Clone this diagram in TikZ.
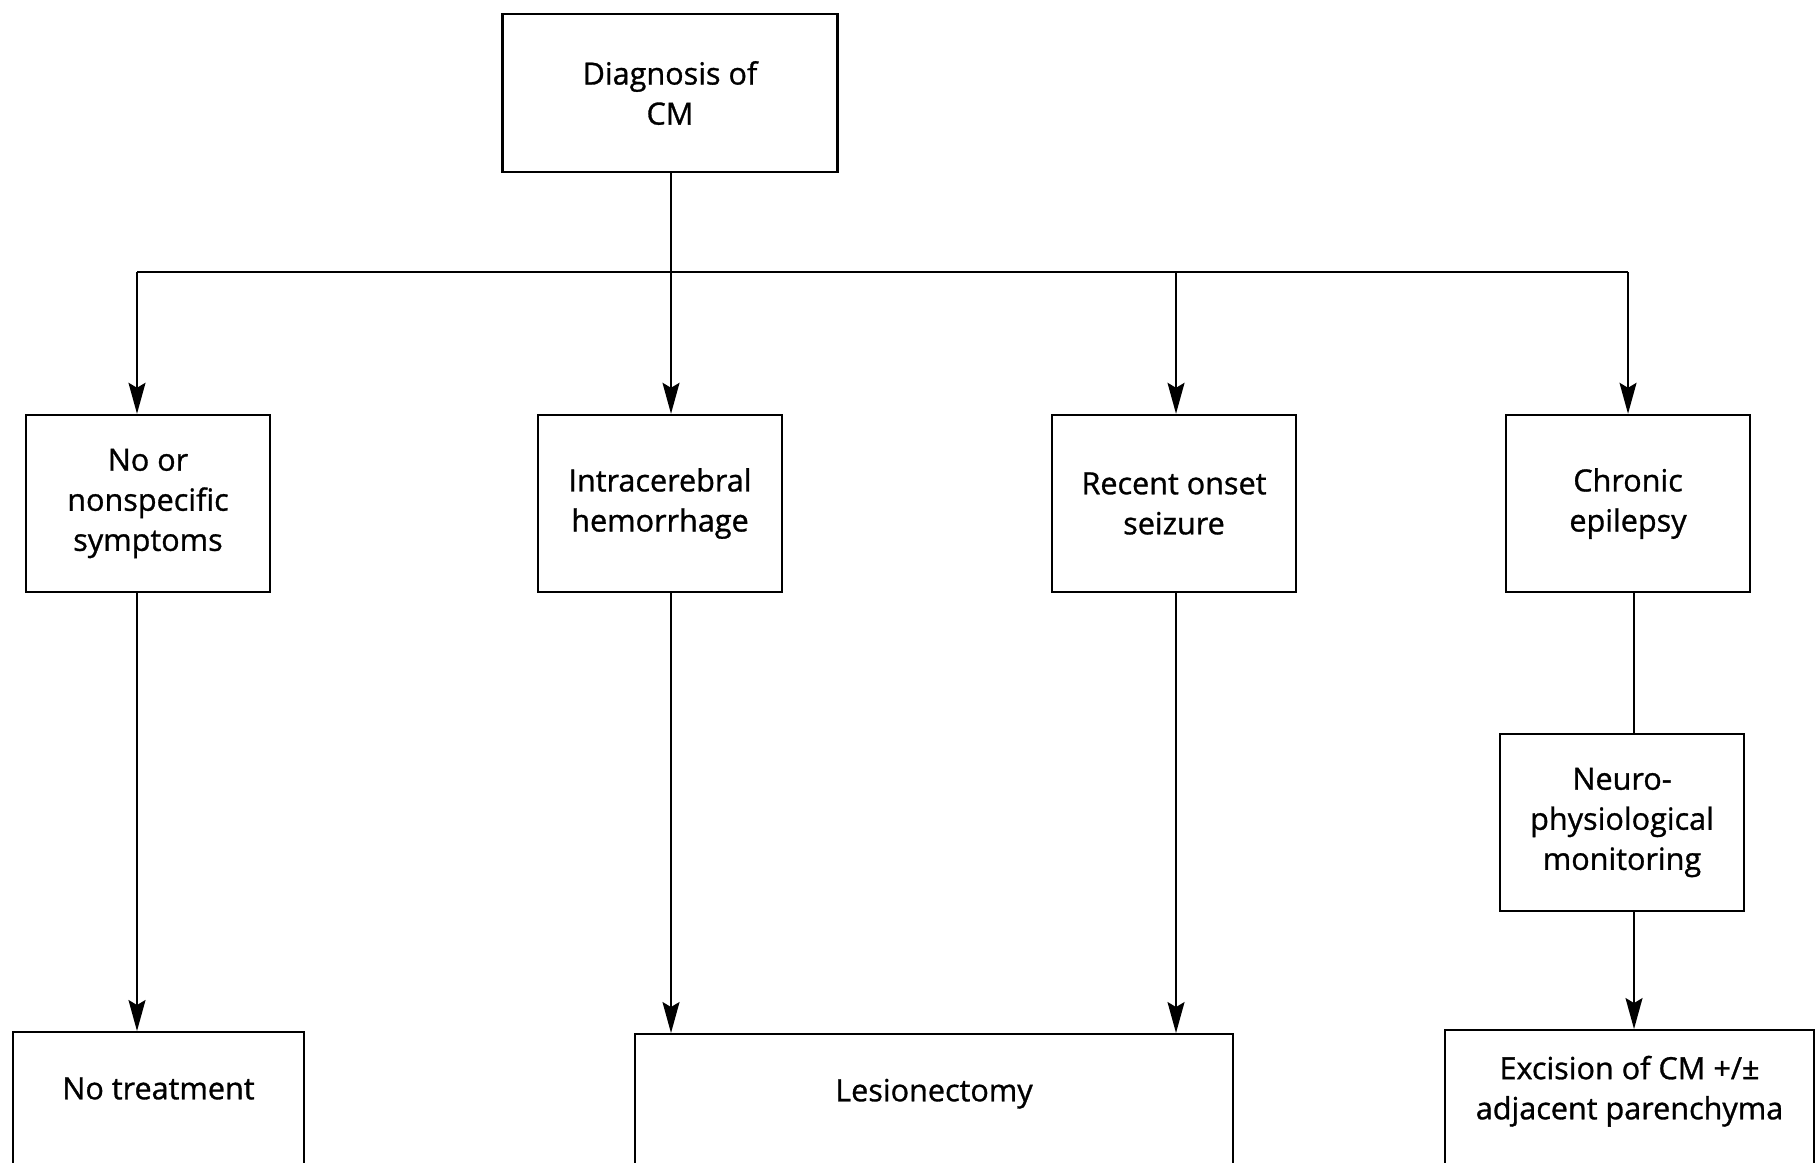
\documentclass[tikz,border=0pt]{standalone}
\usepackage{fontspec}
\setmainfont{Open Sans}[FakeBold=1]
\usepackage{tikz}
\usetikzlibrary{arrows.meta,positioning}

\begin{document}
\begin{tikzpicture}[font=\fontsize{8.7}{11.4}\selectfont,
    >={Stealth[length=3.1mm,width=1.7mm,inset=0.5mm]},
    box/.style={draw,line width=0.7pt,align=center,inner sep=0pt,
      minimum width=2.44cm,minimum height=1.77cm},
    cutbox/.style={draw,line width=0.7pt,align=center,inner sep=0pt,
      anchor=north,text height=0.67cm,text depth=1.2cm},
    link/.style={line width=0.5pt}]
  \useasboundingbox (0,0) rectangle (18.17,-11.62);
  \clip (0,0) rectangle (18.17,-11.62);
  % top
  \node[box,minimum width=3.35cm,minimum height=1.58cm] (diag) at (6.70,-0.93) {Diagnosis of\\CM};
  % presentation row
  \node[box] (sym)  at (1.48,-5.035)  {No or\\nonspecific\\symptoms};
  \node[box] (ich)  at (6.60,-5.035)  {Intracerebral\\hemorrhage};
  \node[box] (seiz) at (11.74,-5.035) {Recent onset\\seizure};
  \node[box] (epi)  at (16.28,-5.035) {Chronic\\epilepsy};
  \node[box] (neuro) at (16.22,-8.225) {Neuro-\\physiological\\monitoring};
  % treatment row (runs off the bottom)
  \node[cutbox,minimum width=2.91cm] (none) at (1.585,-10.31) {No treatment};
  \node[cutbox,minimum width=5.98cm] (lesion) at (9.34,-10.33) {Lesionectomy};
  \node[cutbox,minimum width=3.69cm,text height=0.89cm] (excis) at (16.295,-10.29)
    {Excision of CM +/±\\adjacent parenchyma};
  % branch bar
  \coordinate (j1) at (1.37,-2.72);
  \coordinate (j2) at (6.71,-2.72);
  \coordinate (j3) at (11.76,-2.72);
  \coordinate (j4) at (16.28,-2.72);
  \coordinate (d4) at (16.34,-2.72);
  \draw[link] (j1) -- (j4);
  \draw[link] (diag.south -| j2) -- (j2);
  \foreach \c/\n in {j1/sym,j2/ich,j3/seiz,j4/epi}
    \draw[link,->] (\c) -- (\n.north -| \c);
  % down to treatment
  \draw[link,->] (sym.south -| j1) -- (none.north -| j1);
  \draw[link,->] (ich.south -| j2) -- (lesion.north -| j2);
  \draw[link,->] (seiz.south -| j3) -- (lesion.north -| j3);
  \draw[link] (epi.south -| d4) -- (neuro.north -| d4);
  \draw[link,->] (neuro.south -| d4) -- (excis.north -| d4);
\end{tikzpicture}
\end{document}
